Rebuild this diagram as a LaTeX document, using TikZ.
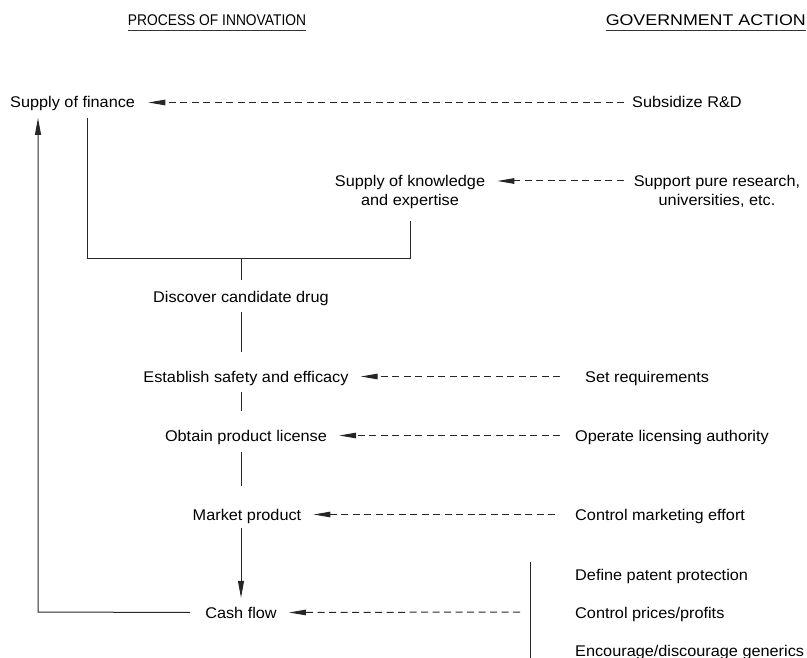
\documentclass[tikz,border=0pt]{standalone}
\usepackage{fontspec}
\setmainfont{Liberation Sans}[FakeStretch=1.05]
\newfontfamily\headfontA{Liberation Sans}[FakeStretch=0.89]
\newfontfamily\headfontB{Liberation Sans}[FakeStretch=1.15]
\usetikzlibrary{arrows.meta}
\begin{document}
\begin{tikzpicture}[x=1pt,y=-1pt,
  txt/.style={inner sep=0pt, text height=11pt, text depth=0pt, font=\fontsize{15.5}{19}\selectfont},
  head/.style={inner sep=0pt, text height=11pt, text depth=0pt},
  ctr/.style={txt, anchor=base},
  lft/.style={txt, anchor=base west},
  two/.style={inner sep=0pt, align=center, anchor=north, font=\fontsize{15.5}{19}\selectfont},
  ln/.style={line width=1pt, draw=black!85},
  ul/.style={line width=0.8pt, draw=black!80},
  gov/.style={ln, dash pattern=on 7pt off 4.5pt, -{Triangle[length=17pt,width=5.5pt]}},
  flow/.style={ln, -{Triangle[length=17pt,width=6pt]}},
]
\useasboundingbox (0,0) rectangle (807,658);

% headings
\node[head, anchor=base, font=\headfontA\fontsize{15.5}{19}\selectfont] (h1) at (217,26) {PROCESS OF INNOVATION};
\node[head, anchor=base east, font=\headfontB\fontsize{15.5}{19}\selectfont] (h2) at (806,26) {GOVERNMENT ACTION};
\draw[ul] ([yshift=-4pt]h1.base west) -- ([yshift=-4pt]h1.base east);
\draw[ul] ([yshift=-4pt]h2.base west) -- ([yshift=-4pt]h2.base east);

% process column
\node[lft] (fin) at (10,108) {Supply of finance};
\node[two] (know) at (410,175) {Supply of knowledge\\and expertise};
\node[ctr] (disc) at (241,302) {Discover candidate drug};
\node[ctr] (est) at (246,382) {Establish safety and efficacy};
\node[ctr] (obt) at (246,441) {Obtain product license};
\node[ctr] (mkt) at (247,520) {Market product};
\node[ctr] (cash) at (241,618) {Cash flow};

% government column
\node[lft] (sub) at (632,108) {Subsidize R\&D};
\node[two] (sup) at (717,175) {Support pure research,\\universities, etc.};
\node[lft] (req) at (585,382) {Set requirements};
\node[lft] (lic) at (575,441) {Operate licensing authority};
\node[lft] (mktc) at (575,520) {Control marketing effort};
\node[lft] (pat) at (575,580) {Define patent protection};
\node[lft] (pri) at (575,618) {Control prices/profits};
\node[lft] (gen) at (575,656) {Encourage/discourage generics};

% coordinates for free ends
\coordinate (bl) at (87,118);
\coordinate (bm) at (241,259);
\coordinate (br) at (410,259);
\coordinate (lx) at (38,612);
\coordinate (tip) at (38,118);
\coordinate (bar1) at (530,562);
\coordinate (bar2) at (530,658);
\coordinate (barm) at (530,612);

% bracket joining finance and knowledge
\draw[ln] (bl) -- (bl |- br) -- (br) -- ([yshift=-12pt]know.south -| br);
\draw[ln] (bm) -- ([yshift=11pt]disc.north);

% main chain (all on the column x of bm)
\draw[ln] ([yshift=-10pt]disc.south -| bm) -- ([yshift=19pt]est.north -| bm);
\draw[ln] ([yshift=-10pt]est.south -| bm) -- ([yshift=19pt]obt.north -| bm);
\draw[ln] ([yshift=-11pt]obt.south -| bm) -- ([yshift=23pt]mkt.north -| bm);
\draw[flow] ([yshift=-8pt]mkt.south -| bm) -- ([yshift=9pt]cash.north -| bm);

% cash flow back to finance
\draw[flow] ([xshift=-15pt]cash.west) -- (lx) -- (tip);

% government actions
\draw[gov] ([xshift=-8pt]sub.west) -- ([xshift=13pt]fin.east);
\draw[gov] ([xshift=-10pt, yshift=-6pt]sup.north west) -- ([xshift=12pt, yshift=-6pt]know.north east);
\draw[gov] ([xshift=-25pt]req.west) -- ([xshift=12pt]est.east);
\draw[gov] ([xshift=-15pt]lic.west) -- ([xshift=12pt]obt.east);
\draw[gov] ([xshift=-20pt]mktc.west) -- ([xshift=12pt]mkt.east);
\draw[ln] (bar1) -- (bar2);
\draw[gov] ([xshift=-10pt]barm) -- ([xshift=12pt]cash.east);
\end{tikzpicture}
\end{document}
